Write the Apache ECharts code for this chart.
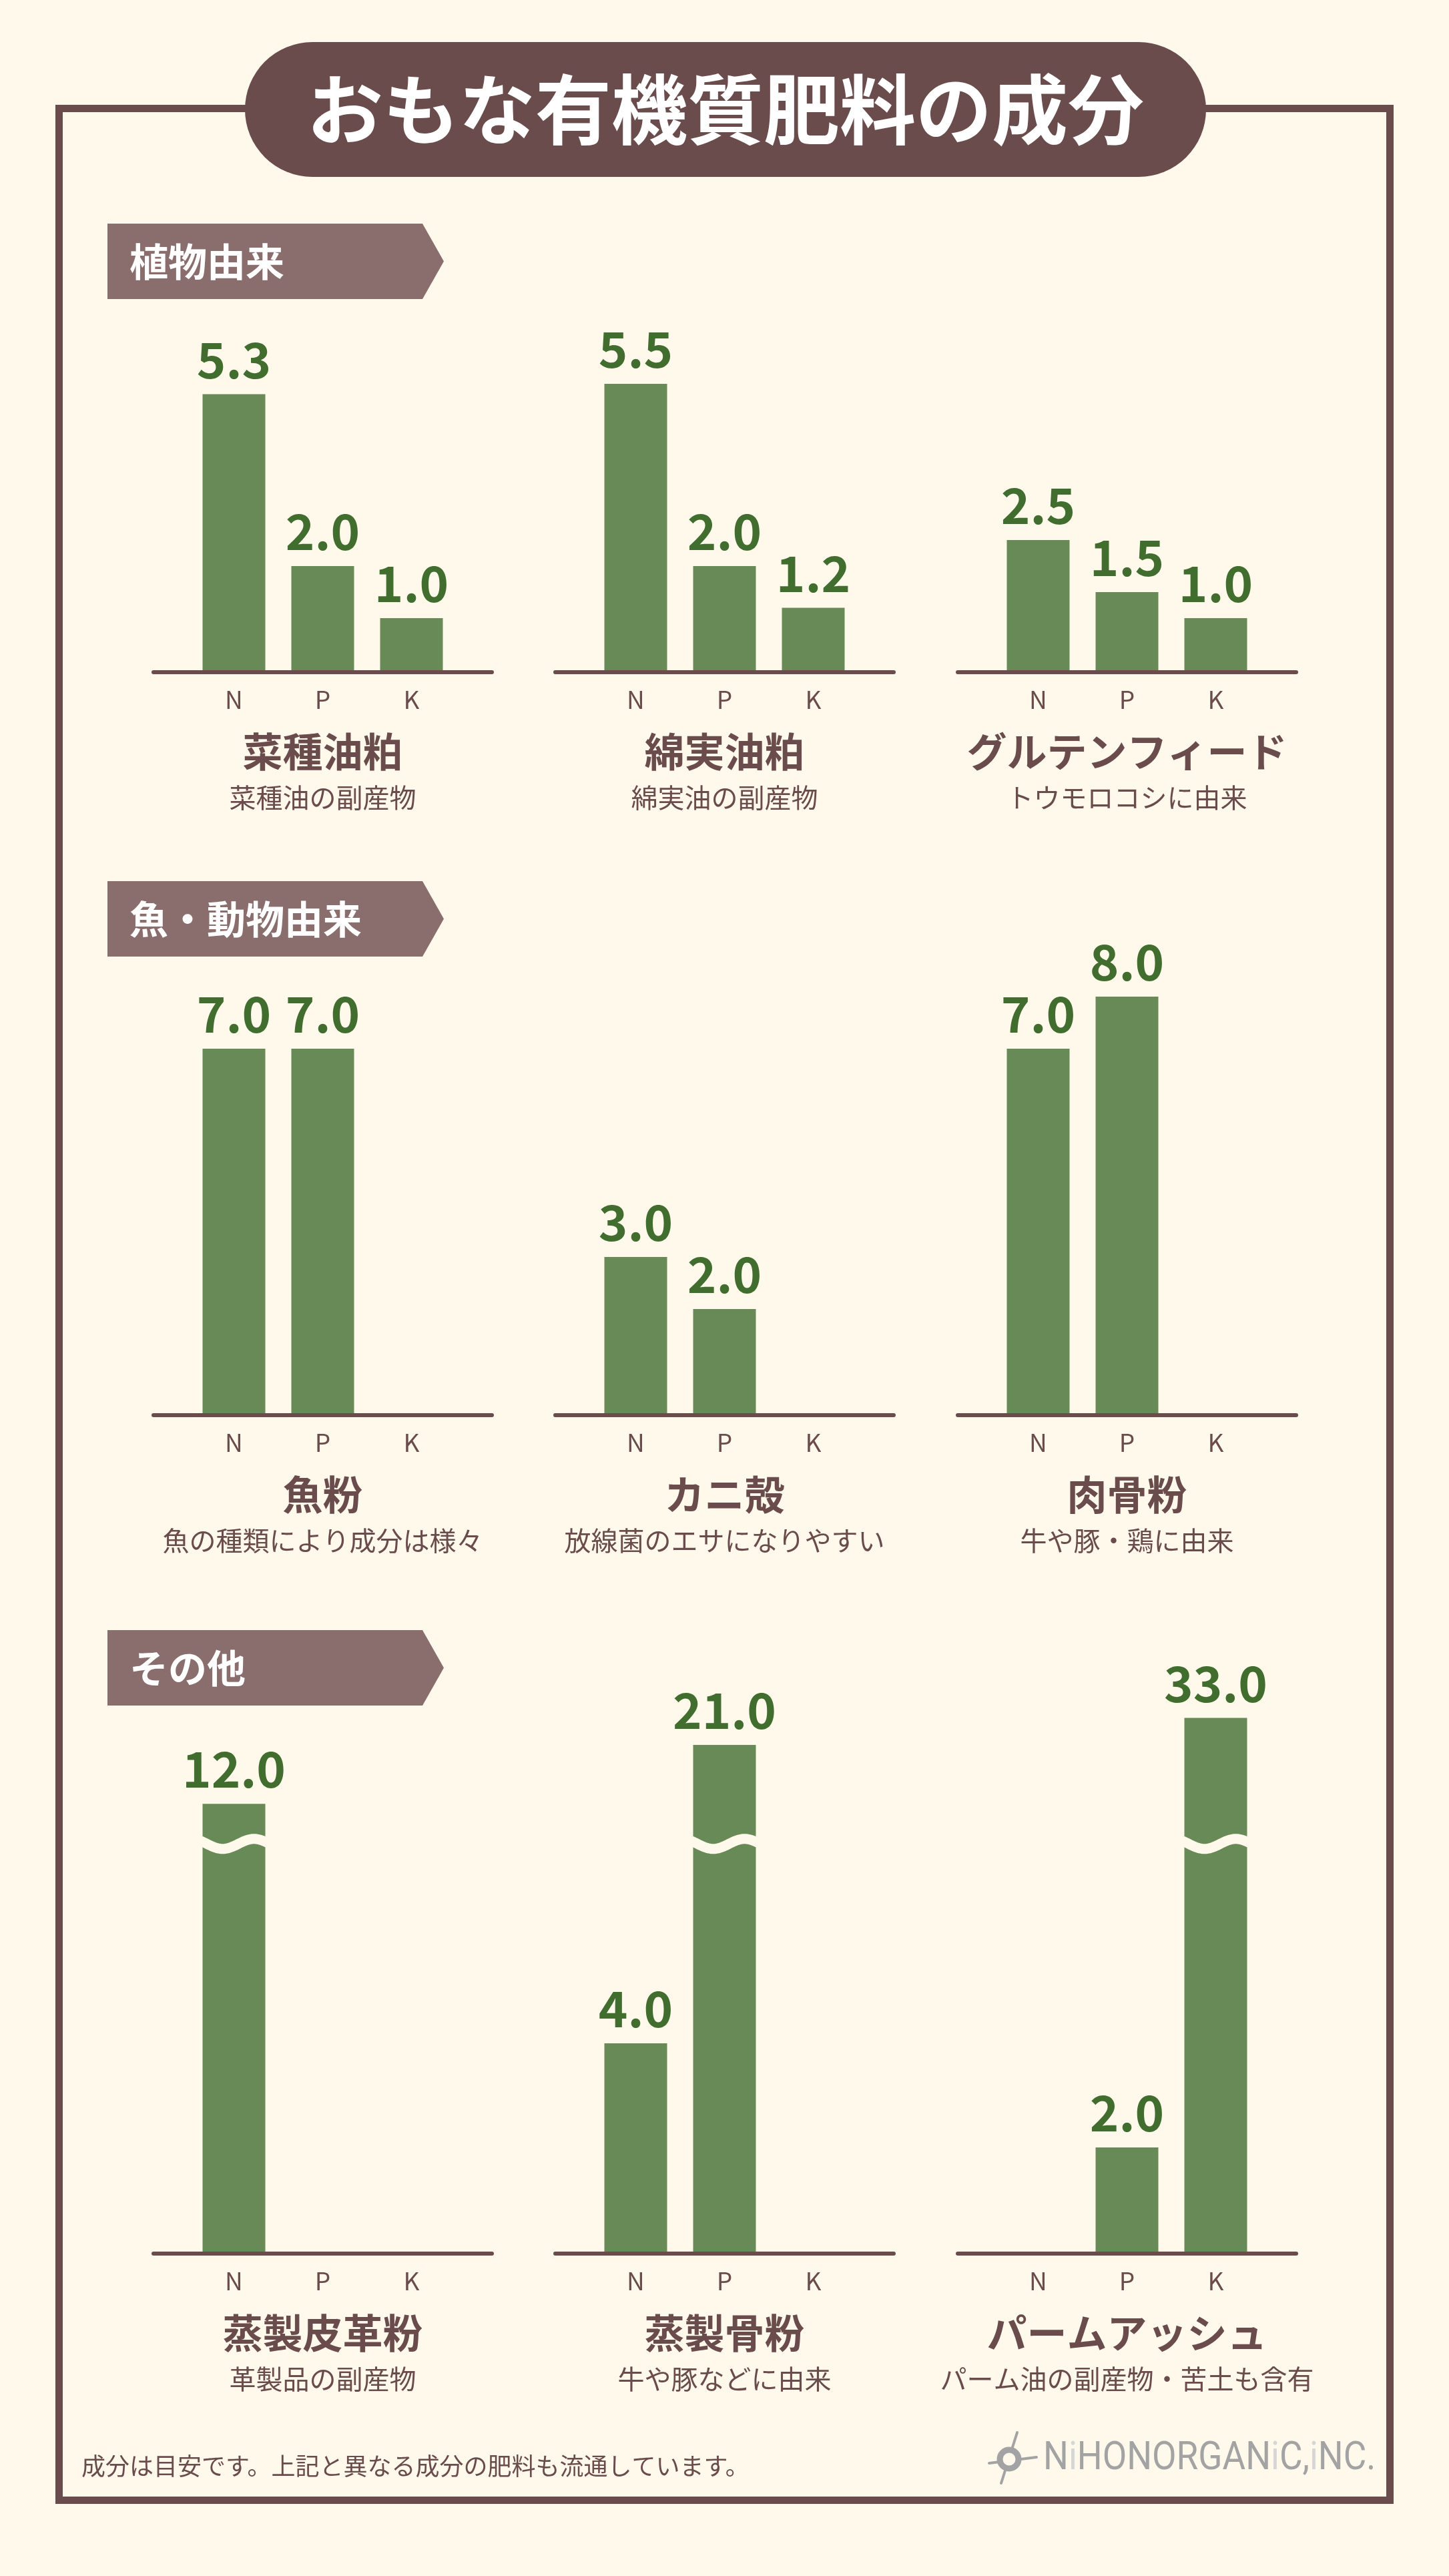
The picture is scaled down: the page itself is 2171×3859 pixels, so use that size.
<!DOCTYPE html>
<html><head><meta charset="utf-8">
<script src="https://cdn.jsdelivr.net/npm/echarts@6/dist/echarts.min.js"></script>
<style>html,body{margin:0;padding:0;background:#fff9ec;}#c{width:2171px;height:3859px;}</style>
</head><body><div id="c"></div>
<script>
// ---------- data ----------
const nutrients = ['N', 'P', 'K'];
const chartTitle = 'おもな有機質肥料の成分';
const sectionTitles = ['植物由来', '魚・動物由来', 'その他'];
const names = ['菜種油粕', '綿実油粕', 'グルテンフィード', '魚粉', 'カニ殻', '肉骨粉', '蒸製皮革粉', '蒸製骨粉', 'パームアッシュ'];
const notes = ['菜種油の副産物', '綿実油の副産物', 'トウモロコシに由来', '魚の種類により成分は様々', '放線菌のエサになりやすい', '牛や豚・鶏に由来', '革製品の副産物', '牛や豚などに由来', 'パーム油の副産物・苦土も含有'];
const rapeseedCake = [5.3, 2.0, 1.0];
const cottonseedCake = [5.5, 2.0, 1.2];
const glutenFeed = [2.5, 1.5, 1.0];
const fishMeal = [7.0, 7.0, null];
const crabShell = [3.0, 2.0, null];
const meatBoneMeal = [7.0, 8.0, null];
const leatherMeal = [12.0, null, null];
const steamedBoneMeal = [4.0, 21.0, null];
const palmAsh = [null, 2.0, 33.0];
// axis break ranges for the bottom row (value units)
const breakStart = [7.73, 7.73, 7.73];
const breakEnd = [11.33, 19.2, 30.68];
const footnote = '成分は目安です。上記と異なる成分の肥料も流通しています。';

const panels = [rapeseedCake, cottonseedCake, glutenFeed, fishMeal, crabShell, meatBoneMeal, leatherMeal, steamedBoneMeal, palmAsh];

// ---------- style / layout ----------
const BG = '#fff9ec', BROWN = '#6b4c4c', MAUVE = '#8a6e6e', BAR = '#688a57', LBL = '#416d2e';
const FONT = '"Noto Sans CJK JP", "Noto Sans", sans-serif';
const colX = [230, 832, 1435];
const axisLen = 507, inset = 54, plotW = 399;
const rowBase = [1004, 2117, 3373];
const unitPx = 78;
const headerTop = [335, 1320, 2442];
const BREAK_GAP = 0.2;

const grids = [], xAxes = [], yAxes = [], series = [], graphics = [];

graphics.push({ type: 'rect', z: 1, shape: { x: 88.5, y: 162.5, width: 1994, height: 3583 }, style: { fill: null, stroke: BROWN, lineWidth: 11 } });
graphics.push({ type: 'rect', z: 2, shape: { x: 367, y: 63, width: 1440, height: 202, r: 101 }, style: { fill: BROWN } });
graphics.push({ type: 'text', z: 3, x: 1087, y: 164, style: { text: chartTitle, fill: '#fff', fontSize: 114, fontWeight: 'bold', fontFamily: FONT, align: 'center', verticalAlign: 'middle' } });

sectionTitles.forEach((t, r) => {
  const y = headerTop[r];
  graphics.push({ type: 'polygon', z: 2, shape: { points: [[161, y], [633, y], [665, y + 56.5], [633, y + 113], [161, y + 113]] }, style: { fill: MAUVE } });
  graphics.push({ type: 'text', z: 3, x: 194, y: y + 57, style: { text: t, fill: '#fff', fontSize: 58, fontWeight: 'bold', fontFamily: FONT, align: 'left', verticalAlign: 'middle' } });
});

function renderWave(params, api) {
  const c = api.value(0);
  const p1 = api.coord([c, api.value(1)]);
  const p2 = api.coord([c, api.value(2)]);
  const cx = p1[0], cy = (p1[1] + p2[1]) / 2;
  const half = 47, pts = [];
  for (let k = -8; k <= 108; k += 2) {
    const t = k / 100;
    pts.push([cx - half + t * 2 * half, cy + 7.5 * Math.sin(2 * Math.PI * (t - 0.07))]);
  }
  return { type: 'polyline', shape: { points: pts }, style: { stroke: BG, lineWidth: 15, fill: null } };
}

panels.forEach((vals, i) => {
  const r = Math.floor(i / 3), c = i % 3;
  const B = rowBase[r];
  let H, yAxis;
  if (r < 2) {
    H = unitPx * 8;
    yAxis = { type: 'value', gridIndex: i, min: 0, max: 8 };
  } else {
    const span = 11;
    H = unitPx * span;
    const s = breakStart[c], e = breakEnd[c];
    yAxis = {
      type: 'value', gridIndex: i, min: 0, max: span + (e - s) - BREAK_GAP,
      breaks: [{ start: s, end: e, gap: BREAK_GAP }],
      breakArea: { itemStyle: { color: 'rgba(0,0,0,0)', borderWidth: 0, opacity: 0 }, zigzagAmplitude: 0 }
    };
  }
  Object.assign(yAxis, { axisLine: { show: false }, axisTick: { show: false }, axisLabel: { show: false }, splitLine: { show: false } });
  grids.push({ left: colX[c] + inset, width: plotW, top: B - H, height: H, outerBoundsMode: 'none' });
  xAxes.push({
    type: 'category', gridIndex: i, data: nutrients,
    axisLine: { show: false }, axisTick: { show: false }, splitLine: { show: false },
    axisLabel: { margin: 25, color: BROWN, fontSize: 37, fontFamily: FONT }
  });
  yAxes.push(yAxis);
  series.push({
    type: 'bar', xAxisIndex: i, yAxisIndex: i, data: vals, barWidth: 94, z: 2,
    itemStyle: { color: BAR },
    label: { show: true, position: 'top', distance: 15, color: LBL, fontSize: 74, fontWeight: 'bold', fontFamily: FONT, formatter: p => p.value.toFixed(1) }
  });
  if (r === 2) {
    const waves = [];
    vals.forEach((v, k) => { if (v != null && v > breakEnd[c]) waves.push([k, breakStart[c], breakEnd[c]]); });
    series.push({ type: 'custom', xAxisIndex: i, yAxisIndex: i, z: 5, data: waves, encode: { x: 0, y: [1, 2] }, renderItem: renderWave, silent: true });
  }
  // baseline
  graphics.push({ type: 'line', z: 4, shape: { x1: colX[c], y1: B + 3, x2: colX[c] + axisLen, y2: B + 3 }, style: { stroke: BROWN, lineWidth: 6, lineCap: 'round' } });
  const cx = colX[c] + axisLen / 2;
  graphics.push({ type: 'text', z: 3, x: cx, y: B + 122, style: { text: names[i], fill: BROWN, fontSize: 60, fontWeight: 'bold', fontFamily: FONT, align: 'center', verticalAlign: 'middle' } });
  graphics.push({ type: 'text', z: 3, x: cx, y: B + 191, style: { text: notes[i], fill: BROWN, fontSize: 40, fontFamily: FONT, align: 'center', verticalAlign: 'middle' } });
});

// footnote
graphics.push({ type: 'text', z: 3, x: 122, y: 3694, style: { text: footnote, fill: BROWN, fontSize: 36, fontFamily: FONT, align: 'left', verticalAlign: 'middle' } });

// logo
const GREY = '#a3a3a3', LGREY = '#d6d6d6';
graphics.push({ type: 'line', z: 3, shape: { x1: 1524, y1: 3644, x2: 1500, y2: 3720 }, style: { stroke: GREY, lineWidth: 4, lineCap: 'round' } });
graphics.push({ type: 'line', z: 3, shape: { x1: 1482, y1: 3690, x2: 1553, y2: 3681 }, style: { stroke: GREY, lineWidth: 4, lineCap: 'round' } });
graphics.push({ type: 'circle', z: 3, shape: { cx: 1512, cy: 3684, r: 14 }, style: { fill: BG, stroke: GREY, lineWidth: 9 } });
graphics.push({
  type: 'text', z: 3, x: 1563, y: 3684, scaleX: 0.9,
  style: {
    text: '{a|N}{b|i}{a|HONORGAN}{b|i}{a|C,}{b|i}{a|NC.}', align: 'left', verticalAlign: 'middle',
    rich: {
      a: { fill: GREY, fontSize: 59, fontFamily: 'Roboto, sans-serif' },
      b: { fill: LGREY, fontSize: 59, fontFamily: 'Roboto, sans-serif' }
    }
  }
});

const chart = echarts.init(document.getElementById('c'), null, { renderer: 'canvas', width: 2171, height: 3859 });
chart.setOption({
  backgroundColor: BG,
  animation: false,
  grid: grids, xAxis: xAxes, yAxis: yAxes, series: series, graphic: graphics
});
</script></body></html>
